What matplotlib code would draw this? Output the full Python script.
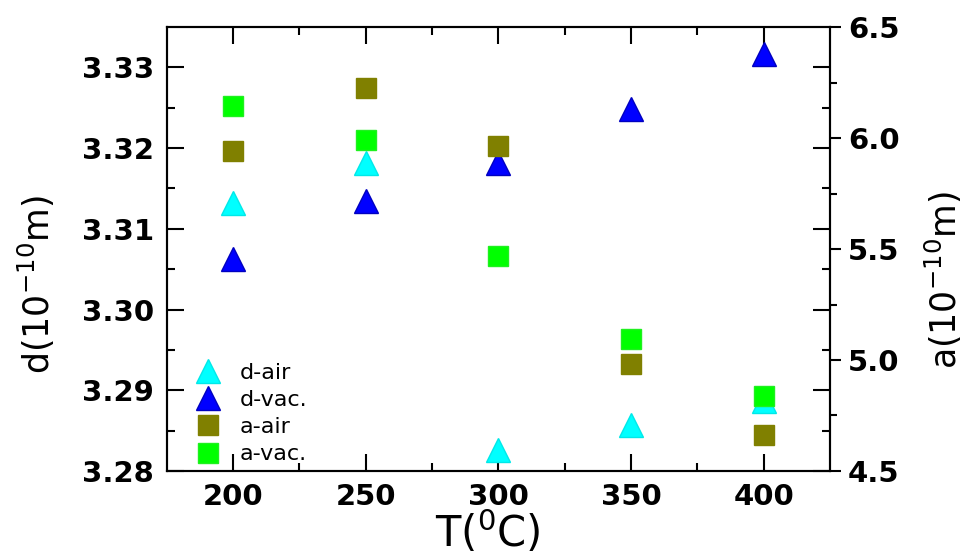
import numpy as np
import matplotlib
matplotlib.use("Agg")
import matplotlib.pyplot as plt

plt.rcParams['font.family'] = ['DejaVu Sans']
plt.rcParams['mathtext.fontset'] = 'dejavusans'

# temperatures (C)
temps = [200, 250, 300, 350, 400]
# interplanar spacing d (1e-10 m), left axis
d_air = [3.3132, 3.3181, 3.2826, 3.2857, 3.2887]
d_vac = [3.3063, 3.3135, 3.3182, 3.3248, 3.3316]
# lattice parameter a (1e-10 m), right axis
a_air = [5.94, 6.224, 5.965, 4.984, 4.66]
a_vac = [6.144, 5.99, 5.47, 5.096, 4.838]

fig = plt.figure(figsize=(9.66, 5.56), dpi=100)
ax = fig.add_axes([0.1724, 0.1529, 0.6868, 0.7985])
ax2 = ax.twinx()

h1, = ax.plot(temps, d_air, ls='none', marker='^', ms=17, color='#00FFFF',
              mec='#00E8E8', label='d-air')
h2, = ax.plot(temps, d_vac, ls='none', marker='^', ms=17, color='#0000FF',
              mec='#0000C0', label='d-vac.')
h3, = ax2.plot(temps, a_air, ls='none', marker='s', ms=14, color='#808000',
               mec='#808000', label='a-air')
h4, = ax2.plot(temps, a_vac, ls='none', marker='s', ms=14, color='#00FF00',
               mec='#20F020', label='a-vac.')

ax.set_xlim(175, 425)
ax.set_ylim(3.28, 3.335)
ax2.set_ylim(4.5, 6.5)

ax.set_xticks([200, 250, 300, 350, 400])
ax.set_xticks([225, 275, 325, 375], minor=True)
ax.set_yticks([3.28, 3.29, 3.30, 3.31, 3.32, 3.33])
ax.set_yticklabels(['3.28', '3.29', '3.30', '3.31', '3.32', '3.33'])
ax.set_yticks(np.arange(3.285, 3.334, 0.01), minor=True)
ax2.set_yticks([4.5, 5.0, 5.5, 6.0, 6.5])
ax2.set_yticks([4.75, 5.25, 5.75, 6.25], minor=True)

for s in ['left', 'right', 'top', 'bottom']:
    ax.spines[s].set_linewidth(1.5)
    ax2.spines[s].set_linewidth(1.5)

ax.tick_params(axis='both', which='major', direction='in', length=12, width=1.5,
               top=True, right=True, labelsize=21, pad=9)
ax.tick_params(axis='both', which='minor', direction='in', length=6, width=1.5,
               top=True, right=True)
ax2.tick_params(axis='y', which='major', direction='out', length=8, width=1.5,
                labelsize=21, pad=5)
ax2.tick_params(axis='y', which='minor', direction='out', length=5, width=1.5)

for lab in ax.get_xticklabels() + ax.get_yticklabels() + ax2.get_yticklabels():
    lab.set_fontweight('bold')

ax.set_xlabel(r'T($^{0}$C)', fontsize=30)
ax.xaxis.set_label_coords(0.485, -0.085, transform=ax.transAxes)
ax.xaxis.label.set_va('top')
ax.set_ylabel(r'd(10$^{-10}$m)', fontsize=25)
ax.yaxis.set_label_coords(-0.165, 0.42)
ax2.set_ylabel(r'a(10$^{-10}$m)', fontsize=25)
ax2.yaxis.set_label_coords(1.14, 0.43)

ax2.legend(handles=[h1, h2, h3, h4], loc='lower left', bbox_to_anchor=(0.02, -0.01),
           frameon=False, fontsize=16, handletextpad=0.7, labelspacing=0.32,
           borderaxespad=0.1, handlelength=1.5)

fig.savefig('out.png', dpi=100)
